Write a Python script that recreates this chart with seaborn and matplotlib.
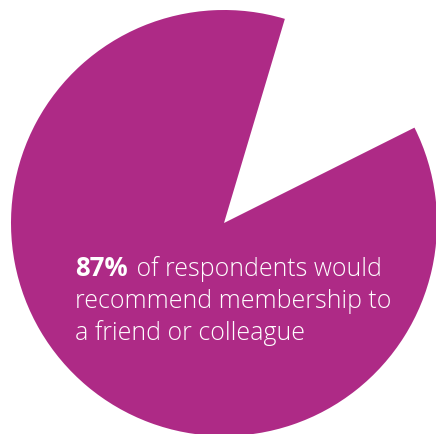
import matplotlib
matplotlib.use("Agg")
import matplotlib.pyplot as plt
import seaborn as sns

sns.set_theme(style="white")
plt.rcParams['font.family'] = ['Open Sans', 'DejaVu Sans']

categories = ["Would not recommend", "Would recommend"]
values = [13, 87]
colors = ["white", "#AE2A86"]
headline = "87%"
line1_rest = " of respondents would"
line2 = "recommend membership to"
line3 = "a friend or colleague"

W, H = 436, 435
fig = plt.figure(figsize=(W / 100, H / 100), dpi=100)
fig.patch.set_facecolor("white")
ax = fig.add_axes([0, 0, 1, 1])

cx, cy, r = 224, 224, 213
gap_deg = values[0] / sum(values) * 360
start = 50 - gap_deg / 2
ax.pie(values, colors=colors, startangle=start, counterclock=True,
       wedgeprops=dict(linewidth=0))
ax.set_xlim(-cx / r, (W - cx) / r)
ax.set_ylim(-(H - cy) / r, cy / r)
ax.set_aspect("auto")
ax.axis("off")

fs = 17.9
x0 = 75 / W
def ypos(py):
    return 1 - py / H

t1 = fig.text(x0, ypos(276), headline, color="white", fontsize=fs + 0.6,
              fontweight="bold", va="baseline", ha="left")
fig.canvas.draw()
renderer = fig.canvas.get_renderer()
bb = t1.get_window_extent(renderer)
fig.text((bb.x1 + 2) / W, ypos(276), line1_rest, color="white", fontsize=fs,
         fontweight="light", va="baseline", ha="left")
fig.text(x0, ypos(308), line2, color="white", fontsize=fs,
         fontweight="light", va="baseline", ha="left")
fig.text(x0, ypos(340), line3, color="white", fontsize=fs,
         fontweight="light", va="baseline", ha="left")

fig.savefig("out.png", dpi=100, facecolor="white")
